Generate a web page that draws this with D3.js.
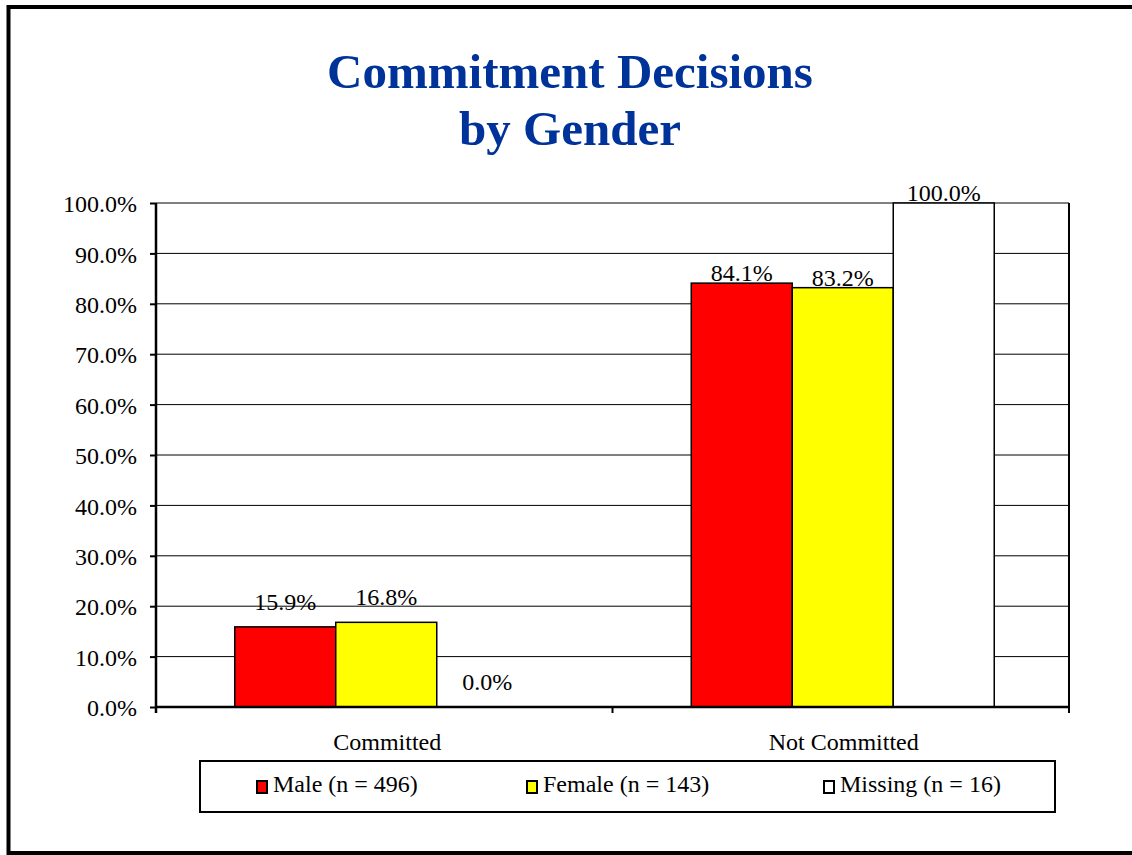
<!DOCTYPE html>
<html>
<head>
<meta charset="utf-8">
<script src="https://cdn.jsdelivr.net/npm/d3@7"></script>
<style>
  body { margin: 0; background: #fff; }
  svg { display: block; }
  text { font-family: "Liberation Serif", "Times New Roman", serif; }
</style>
</head>
<body>
<script>
// data
var categories = ["Committed", "Not Committed"];
var seriesNames = ["Male (n = 496)", "Female (n = 143)", "Missing (n = 16)"];
var maleValues = [15.9, 84.1];
var femaleValues = [16.8, 83.2];
var missingValues = [0.0, 100.0];
var yTicks = [0, 10, 20, 30, 40, 50, 60, 70, 80, 90, 100];
var colors = ["#ff0000", "#ffff00", "#ffffff"];

var W = 1132, H = 855;
var plot = { left: 156, right: 1069, top: 203, bottom: 707 };

var svg = d3.select("body").append("svg")
    .attr("width", W)
    .attr("height", H);

// outer frame (right side runs off the picture)
svg.append("rect")
    .attr("x", 8.5).attr("y", 7)
    .attr("width", 1140).attr("height", 846)
    .attr("fill", "none")
    .attr("stroke", "#000")
    .attr("stroke-width", 4);

// title
var title = svg.append("text")
    .attr("text-anchor", "middle")
    .attr("fill", "#003399")
    .style("font-size", "49px")
    .style("font-weight", "bold");
title.append("tspan").attr("x", 570).attr("y", 88).text("Commitment Decisions");
title.append("tspan").attr("x", 570).attr("y", 145).text("by Gender");

var x0 = d3.scaleBand()
    .domain(categories)
    .range([plot.left, plot.right]);

var x1 = d3.scaleBand()
    .domain(seriesNames)
    .range([0, x0.bandwidth()])
    .paddingOuter(0.76);

var y = d3.scaleLinear()
    .domain([0, 100])
    .range([plot.bottom, plot.top]);

// gridlines
svg.append("g")
    .selectAll("line")
    .data(yTicks.slice(1))
    .enter().append("line")
    .attr("x1", plot.left).attr("x2", plot.right)
    .attr("y1", d => y(d)).attr("y2", d => y(d))
    .attr("stroke", "#000")
    .attr("stroke-width", 1);

// right side of the plot frame
svg.append("line")
    .attr("x1", plot.right).attr("x2", plot.right)
    .attr("y1", plot.top).attr("y2", plot.bottom)
    .attr("stroke", "#000").attr("stroke-width", 2);

// bars
var rows = categories.map(function (c, i) {
    return [maleValues[i], femaleValues[i], missingValues[i]].map(function (v, j) {
        return { cat: c, name: seriesNames[j], value: v, color: colors[j] };
    });
});

var groups = svg.append("g")
    .selectAll("g")
    .data(rows)
    .enter().append("g")
    .attr("transform", (d, i) => "translate(" + (x0(categories[i]) + 2) + ",0)");

groups.selectAll("rect")
    .data(d => d.filter(e => e.value > 0))
    .enter().append("rect")
    .attr("x", d => x1(d.name))
    .attr("y", d => y(d.value))
    .attr("width", x1.bandwidth())
    .attr("height", d => y(0) - y(d.value))
    .attr("fill", d => d.color)
    .attr("stroke", "#000")
    .attr("stroke-width", 1.5);

groups.selectAll("text")
    .data(d => d)
    .enter().append("text")
    .attr("x", d => x1(d.name) + x1.bandwidth() / 2)
    .attr("y", d => d.value < 30 ? y(d.value) - 17 : y(d.value) - 2)
    .attr("text-anchor", "middle")
    .style("font-size", "24px")
    .attr("fill", "#000")
    .text(d => d.value.toFixed(1) + "%");

// y axis
var yAxis = d3.axisLeft(y)
    .tickValues(yTicks)
    .tickSize(6)
    .tickFormat(d => d.toFixed(1) + "%");

var gy = svg.append("g")
    .attr("transform", "translate(" + plot.left + ",0)")
    .call(yAxis);
gy.select(".domain").attr("stroke-width", 2.5).attr("d", "M0," + (plot.bottom + 6) + "V" + plot.top);
gy.selectAll(".tick line").attr("stroke-width", 2);
gy.selectAll(".tick text")
    .attr("x", -19)
    .attr("dy", "0.36em")
    .style("font-size", "24px")
    .style("font-family", "Liberation Serif, Times New Roman, serif")
    .attr("fill", "#000");

// x axis: ticks on the category boundaries
var gx = svg.append("g")
    .attr("transform", "translate(0," + plot.bottom + ")");
gx.append("line")
    .attr("x1", plot.left).attr("x2", plot.right)
    .attr("stroke", "#000").attr("stroke-width", 2.5);
gx.selectAll(".bt")
    .data([plot.left, x0(categories[1]), plot.right])
    .enter().append("line")
    .attr("class", "bt")
    .attr("x1", d => d).attr("x2", d => d)
    .attr("y1", 0).attr("y2", 6)
    .attr("stroke", "#000").attr("stroke-width", 2);
gx.selectAll("text")
    .data(categories)
    .enter().append("text")
    .attr("x", d => x0(d) + x0.bandwidth() / 2 + 3)
    .attr("y", 43)
    .attr("text-anchor", "middle")
    .style("font-size", "24px")
    .text(d => d);

// legend
var legend = svg.append("g");
legend.append("rect")
    .attr("x", 200).attr("y", 761)
    .attr("width", 855).attr("height", 51)
    .attr("fill", "#fff")
    .attr("stroke", "#000")
    .attr("stroke-width", 2);

var legendX = [256, 526, 823];
var items = legend.selectAll(".item")
    .data(seriesNames)
    .enter().append("g")
    .attr("class", "item")
    .attr("transform", (d, i) => "translate(" + legendX[i] + ",780)");
items.append("rect")
    .attr("x", 1).attr("y", 1)
    .attr("width", 10).attr("height", 12)
    .attr("fill", (d, i) => colors[i])
    .attr("stroke", "#000")
    .attr("stroke-width", 2);
items.append("text")
    .attr("x", 17).attr("y", 12)
    .style("font-size", "24px")
    .text(d => d);
</script>
</body>
</html>
